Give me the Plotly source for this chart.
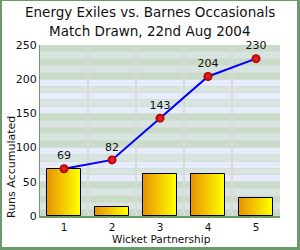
import plotly.graph_objects as go

partnerships = [1, 2, 3, 4, 5]
runs_per_partnership = [69, 13, 61, 61, 26]
runs_accumulated = [69, 82, 143, 204, 230]
cumulative_labels = ["69", "82", "143", "204", "230"]
title_line1 = "Energy Exiles vs. Barnes Occasionals"
title_line2 = "Match Drawn, 22nd Aug 2004"
y_ticks = [0, 50, 100, 150, 200, 250]

W, H = 300, 250
ML, MR, MT, MB = 40, 20, 45, 34
PW, PH = W - ML - MR, H - MT - MB
FONT = "DejaVu Sans"
BORDER = "#6b9b6b"

def px_x(p):
    return (p - ML) / PW

def px_y(p):
    return (H - MB - p) / PH

fig = go.Figure()

# gradient bars built from vertical strips
N = 14
bw = 0.7
c0 = (0xE8, 0x98, 0x00)
c1 = (0xFF, 0xFF, 0x00)
for i in range(N):
    t = i / (N - 1)
    col = "rgb(%d,%d,%d)" % tuple(round(a + (b - a) * t) for a, b in zip(c0, c1))
    fig.add_trace(go.Bar(
        x=partnerships, y=runs_per_partnership,
        width=bw / N + 0.005, offset=-bw / 2 + i * bw / N,
        marker=dict(color=col, line=dict(width=0)),
        hoverinfo="skip", showlegend=False,
    ))
fig.add_trace(go.Bar(
    x=partnerships, y=runs_per_partnership,
    width=bw, offset=-bw / 2,
    marker=dict(color="rgba(0,0,0,0)", line=dict(color="black", width=1)),
    showlegend=False,
))

fig.add_trace(go.Scatter(
    x=partnerships, y=runs_accumulated,
    mode="lines+markers+text",
    text=cumulative_labels, textposition="top center",
    textfont=dict(family=FONT, size=11, color="#111"),
    line=dict(color="#0000ff", width=2),
    marker=dict(size=9, color="#a80000",
                gradient=dict(type="radial", color="#ff2a2a"),
                line=dict(width=0)),
    showlegend=False, cliponaxis=False,
))

shapes = []
green = "#c8dcc8"
lav = "#e7ecfc"
for k in range(25):
    j = k % 5
    if j in (0, 2, 4):
        block = (k // 5) % 2
        col = green if block == 0 else lav
        shapes.append(dict(type="rect", xref="paper", yref="y", x0=0, x1=1,
                           y0=k * 10, y1=k * 10 + 10, fillcolor=col,
                           line=dict(width=0), layer="below"))

# figure frame
shapes += [
    dict(type="rect", xref="paper", yref="paper", x0=px_x(0), x1=px_x(2),
         y0=px_y(H), y1=px_y(0), fillcolor=BORDER, line=dict(width=0)),
    dict(type="rect", xref="paper", yref="paper", x0=px_x(0), x1=px_x(W),
         y0=px_y(1), y1=px_y(0), fillcolor=BORDER, line=dict(width=0)),
    dict(type="rect", xref="paper", yref="paper", x0=px_x(W - 3), x1=px_x(W),
         y0=px_y(H), y1=px_y(0), fillcolor=BORDER, line=dict(width=0)),
    dict(type="rect", xref="paper", yref="paper", x0=px_x(0), x1=px_x(W),
         y0=px_y(H), y1=px_y(H - 3), fillcolor=BORDER, line=dict(width=0)),
]

annotations = [
    dict(text=title_line1, xref="paper", yref="paper", x=px_x(150), y=px_y(12),
         xanchor="center", yanchor="middle", showarrow=False,
         font=dict(family=FONT, size=13.5, color="#111")),
    dict(text=title_line2, xref="paper", yref="paper", x=px_x(150), y=px_y(31),
         xanchor="center", yanchor="middle", showarrow=False,
         font=dict(family=FONT, size=13.5, color="#111")),
    dict(text="Runs Accumulated", xref="paper", yref="paper", x=px_x(11), y=px_y(167),
         xanchor="center", yanchor="middle", showarrow=False, textangle=-90,
         font=dict(family=FONT, size=11, color="#111")),
    dict(text="Wicket Partnership", xref="paper", yref="paper", x=px_x(161), y=px_y(239),
         xanchor="center", yanchor="middle", showarrow=False,
         font=dict(family=FONT, size=10.5, color="#111")),
]

fig.update_layout(
    width=W, height=H,
    margin=dict(l=ML, r=MR, t=MT, b=MB, pad=0),
    paper_bgcolor="white", plot_bgcolor="#d8e4e0",
    barmode="overlay", bargap=0,
    shapes=shapes, annotations=annotations,
    font=dict(family=FONT, size=11, color="#111"),
    xaxis=dict(range=[0.5, 5.5], tickvals=partnerships, ticktext=[str(p) for p in partnerships],
               showgrid=False, zeroline=False, fixedrange=True,
               showline=True, linecolor=BORDER, linewidth=2, ticks="", ticklen=0,
               ticklabelstandoff=0, tickfont=dict(size=10.5),
               minor=dict(tickvals=[1.5, 2.5, 3.5, 4.5, 5.5], showgrid=True,
                          gridcolor="#dadada", gridwidth=2, ticks="")),
    yaxis=dict(range=[0, 250], tickvals=y_ticks, showgrid=True, gridcolor="#d6dcd8",
               gridwidth=1, zeroline=False, fixedrange=True,
               showline=True, linecolor=BORDER, linewidth=1, ticks="",
               minor=dict(dtick=10, tick0=0, showgrid=True, gridcolor="#d6dcd8",
                          gridwidth=1, ticks="")),
)

fig.write_html("out.html")
